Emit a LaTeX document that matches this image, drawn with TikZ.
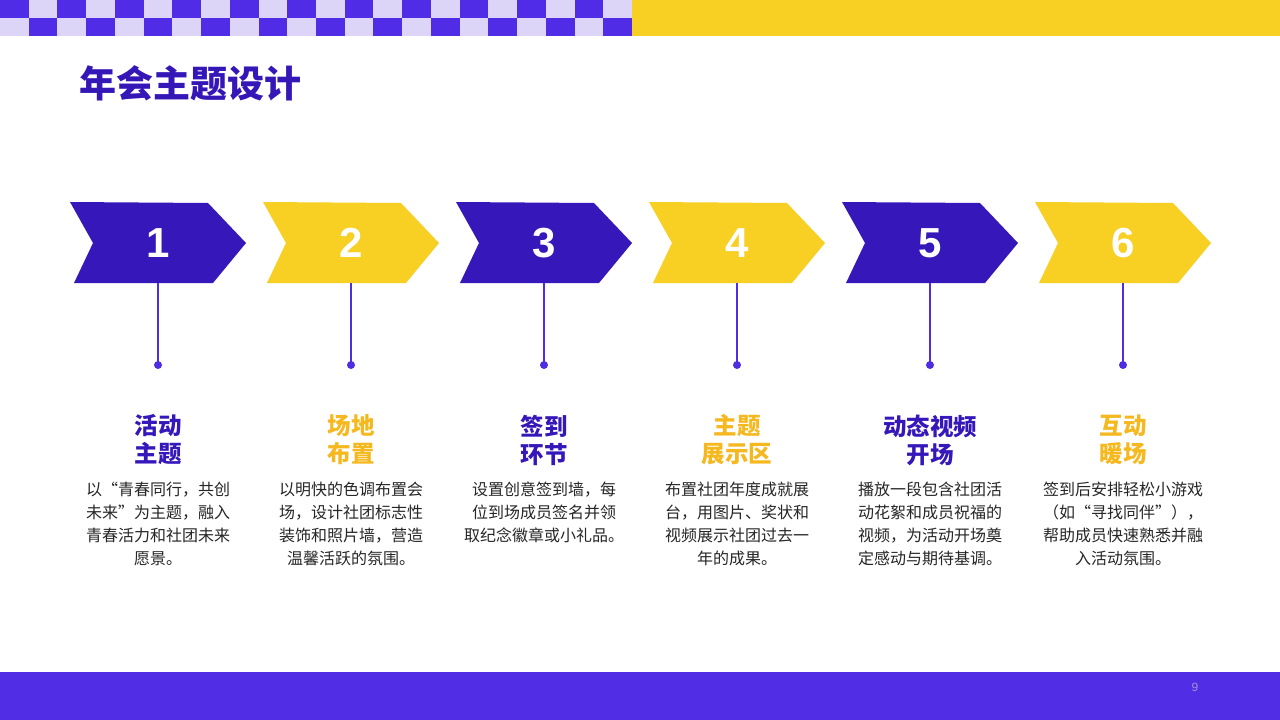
\documentclass[tikz,border=0pt]{standalone}
\usepackage{fontspec}
\setmainfont{Liberation Sans}
\newfontfamily\cjk{Noto Sans CJK SC}
\definecolor{chevblue}{HTML}{3517BA}
\definecolor{chevyellow}{HTML}{F8CF23}
\definecolor{headyellow}{HTML}{F5B81F}
\definecolor{checkblue}{HTML}{512CE6}
\definecolor{checklight}{HTML}{DCD5F8}
\definecolor{barblue}{HTML}{512DE5}
\definecolor{stemcol}{HTML}{4F2DE0}
\definecolor{titlecol}{HTML}{3517B8}
\definecolor{bodycol}{HTML}{262626}
\definecolor{pagecol}{HTML}{9D94D8}
\tikzset{
  numtext/.style={text=white,font=\bfseries\fontsize{42}{42}\selectfont,inner sep=0pt},
  dotnode/.style={circle,fill=stemcol,minimum size=8pt,inner sep=0pt},
  stemline/.style={draw=stemcol,line width=1.2pt},
  headtext/.style={font=\cjk\bfseries\fontsize{23.5}{28}\selectfont,align=center,inner sep=0pt},
  bodytext/.style={font=\cjk\fontsize{16}{23}\selectfont,text=bodycol,align=center,inner sep=0pt,anchor=north},
}
\newcommand\mkstep[5]{%
  \pgfmathsetmacro\ox{70+193*(#1-1)}%
  \pgfmathsetmacro\cx{\ox+88}%
  \fill[#2] (\ox,202) -- ++(138,1) -- ++(38,40) -- ++(-33,40) -- ++(-139,0) -- ++(19,-40) -- cycle;
  \node[numtext] (num#1) at (\cx,243) {#1};
  \coordinate (stemtop#1) at (\cx,283);
  \node[dotnode] (dot#1) at (\cx,365) {};
  \draw[stemline] (stemtop#1) -- (dot#1.center);
  \node[headtext,text=#3] (head#1) at (\cx,440) {#4};
  \node[bodytext] (body#1) at (\cx,482) {#5};
}
\begin{document}
\begin{tikzpicture}[x=1pt,y=-1pt]
\useasboundingbox (0,0) rectangle (1280,720);
\fill[white] (0,0) rectangle (1280,720);
% checker band
\foreach \i in {0,...,21}{
  \pgfmathtruncatemacro\r{mod(\i,2)}
  \ifnum\r=0
    \fill[checkblue] ({\i*632/22},0) rectangle ({(\i+1)*632/22},18);
    \fill[checklight] ({\i*632/22},18) rectangle ({(\i+1)*632/22},36);
  \else
    \fill[checklight] ({\i*632/22},0) rectangle ({(\i+1)*632/22},18);
    \fill[checkblue] ({\i*632/22},18) rectangle ({(\i+1)*632/22},36);
  \fi
}
\fill[chevyellow] (632,0) rectangle (1280,36);
% bottom bar
\fill[barblue] (0,672) rectangle (1280,720);
\node[text=pagecol,font=\fontsize{12}{12}\selectfont] (page) at (1195,687) {9};
% title
\node[anchor=west,inner sep=0pt,text=titlecol,font=\cjk\bfseries\fontsize{37}{40}\selectfont] (title) at (79,83) {年会主题设计};
% steps
\mkstep{1}{chevblue}{chevblue}{活动\\主题}{以“青春同行，共创\\未来”为主题，融入\\青春活力和社团未来\\愿景。}
\mkstep{2}{chevyellow}{headyellow}{场地\\布置}{以明快的色调布置会\\场，设计社团标志性\\装饰和照片墙，营造\\温馨活跃的氛围。}
\mkstep{3}{chevblue}{chevblue}{签到\\环节}{设置创意签到墙，每\\位到场成员签名并领\\取纪念徽章或小礼品。}
\mkstep{4}{chevyellow}{headyellow}{主题\\展示区}{布置社团年度成就展\\台，用图片、奖状和\\视频展示社团过去一\\年的成果。}
\mkstep{5}{chevblue}{chevblue}{动态视频\\开场}{播放一段包含社团活\\动花絮和成员祝福的\\视频，为活动开场奠\\定感动与期待基调。}
\mkstep{6}{chevyellow}{headyellow}{互动\\暖场}{签到后安排轻松小游戏\\（如“寻找同伴”），\\帮助成员快速熟悉并融\\入活动氛围。}
\end{tikzpicture}
\end{document}
